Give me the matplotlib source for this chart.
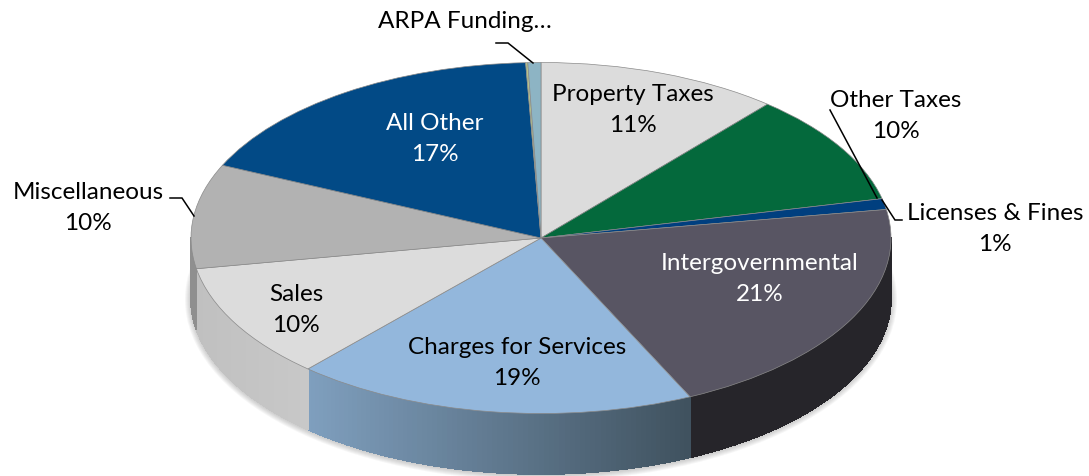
import numpy as np
import matplotlib
matplotlib.use("Agg")
import matplotlib.pyplot as plt
from matplotlib.collections import PolyCollection
from matplotlib.colors import to_rgb
from matplotlib.patches import Ellipse
from matplotlib.transforms import Affine2D

plt.rcParams['font.family'] = ['Lato', 'DejaVu Sans']

# slice sizes, clockwise from 12 o'clock
categories = ["Property Taxes", "Other Taxes", "Licenses & Fines", "Intergovernmental",
              "Charges for Services", "Sales", "Miscellaneous", "All Other",
              "Unlabelled", "ARPA Funding…"]
slice_values = [11.2, 10.2, 1.0, 20.6, 18.6, 10.6, 9.6, 17.5, 0.1, 0.6]
shown_percent = ["11%", "10%", "1%", "21%", "19%", "10%", "10%", "17%", "", ""]

top_colors = ["#dcdcdc", "#04693c", "#003f7f", "#585563", "#93b7dc",
              "#dcdcdc", "#b2b2b2", "#024a86", "#b5c48a", "#8db4c4"]
wall_left = ["#dcdcdc", "#04693c", "#003f7f", "#26252a", "#7f9fbe",
             "#c0c0c0", "#8f8f8f", "#024a86", "#b5c48a", "#8db4c4"]
wall_right = ["#dcdcdc", "#04693c", "#003f7f", "#26252a", "#3f515e",
              "#c8c8c8", "#8f8f8f", "#024a86", "#b5c48a", "#8db4c4"]

# label centres in picture pixels
label_x = [633, 896, 995, 760, 517, 296, 88, 435, None, 465]
label_y = [110, 116, 229, 279, 363, 310, 208, 139, None, 22]
label_color = ["black", "black", "black", "white", "black", "black", "black", "white", None, "black"]

# leader lines in picture pixels
leaders = [
    ([496, 508, 533], [43, 43, 63]),
    ([170, 182, 194], [198, 198, 216]),
    ([902, 895, 882], [220, 220, 200]),
    ([830, 877], [110, 198]),
]

W, H = 1089, 476
cx, cy = 541, 238
rx, ry = 350, 175.5
depth = 61

fig = plt.figure(figsize=(W / 100, H / 100), dpi=100)
ax = fig.add_axes([0, 0, 1, 1])

wedges, _ = ax.pie(slice_values, colors=top_colors, startangle=90, counterclock=False,
                   wedgeprops={"edgecolor": "#8a8a8a", "linewidth": 0.5})
ax.set_aspect("auto")
ax.set_xlim(0, W)
ax.set_ylim(H, 0)

# squash the pie into an ellipse, y is flipped so scale it negative
squash = Affine2D().scale(rx, -ry).translate(cx, cy) + ax.transData
for w in wedges:
    w.set_transform(squash)
    w.set_zorder(5)

# soft shadow under the wall
for k in range(1, 7):
    ax.add_patch(Ellipse((cx, cy + depth + 0.5), 2 * (rx + k), 2 * (ry + k),
                         facecolor="#555555", edgecolor="none", alpha=0.05, zorder=1))

# front wall, drawn as thin strips so it can carry a gradient
for i, w in enumerate(wedges):
    t1, t2 = max(w.theta1, -180), min(w.theta2, 0)
    if t2 <= t1:
        continue
    t = np.radians(np.linspace(t1, t2, 80))
    x = cx + rx * np.cos(t)
    y = cy - ry * np.sin(t)
    frac = (x - x.min()) / (x.max() - x.min())
    c0, c1 = np.array(to_rgb(wall_left[i])), np.array(to_rgb(wall_right[i]))

    # solid base stops the strip seams showing through
    ax.fill(np.r_[x, x[::-1]], np.r_[y, y[::-1] + depth], color=(c0 + c1) / 2,
            linewidth=0, zorder=2.5)

    polys, cols = [], []
    for j in range(len(t) - 1):
        polys.append([(x[j], y[j]), (x[j + 1], y[j + 1]),
                      (x[j + 1], y[j + 1] + depth - 0.5), (x[j], y[j] + depth - 0.5)])
        cols.append(c0 + (c1 - c0) * frac[j])
    ax.add_collection(PolyCollection(polys, facecolors=cols, edgecolors=cols,
                                     linewidths=0.6, antialiaseds=False, zorder=3))

for i, name in enumerate(categories):
    if label_x[i] is None:
        continue
    txt = name if shown_percent[i] == "" else name + "\n" + shown_percent[i]
    ax.text(label_x[i], label_y[i], txt, ha="center", va="center", fontsize=17.5,
            color=label_color[i], linespacing=1.56, zorder=8)

for lx, ly in leaders:
    ax.plot(lx, ly, color="black", linewidth=1.1, zorder=7, solid_joinstyle="miter")

fig.savefig("out.png", dpi=100)
